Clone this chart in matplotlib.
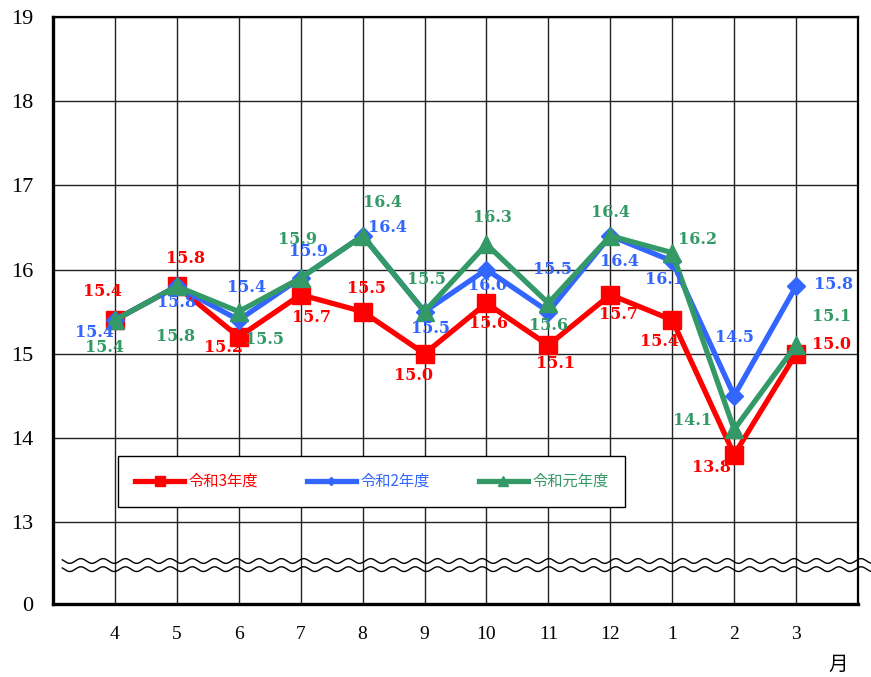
import numpy as np
import matplotlib
matplotlib.use("Agg")
import matplotlib.pyplot as plt

# ==============================================================================
# データ
# ==============================================================================
months = ["4", "5", "6", "7", "8", "9", "10", "11", "12", "1", "2", "3"]
r3_vals = [15.4, 15.8, 15.2, 15.7, 15.5, 15.0, 15.6, 15.1, 15.7, 15.4, 13.8, 15.0]
r2_vals = [15.4, 15.8, 15.4, 15.9, 16.4, 15.5, 16.0, 15.5, 16.4, 16.1, 14.5, 15.8]
r1_vals = [15.4, 15.8, 15.5, 15.9, 16.4, 15.5, 16.3, 15.6, 16.4, 16.2, 14.1, 15.1]
series_names = ["令和3年度", "令和2年度", "令和元年度"]
y_ticks = [13, 14, 15, 16, 17, 18, 19]

# ラベル位置 (pixel offset)
r3_off = [(-12, 29), (9, 28), (-15, -11), (11, -23), (4, 23), (-11, -22),
          (2, -20), (7, -18), (8, -20), (-13, -21), (-23, -13), (35, 9)]
r2_off = [(-20, -12), (0, -16), (8, 33), (8, 26), (25, 8), (6, -17),
          (1, -16), (4, 42), (9, -26), (-8, -18), (0, 58), (37, 2)]
r1_off = [(-10, -27), (-1, -50), (26, -28), (-3, 38), (20, 33), (2, 32),
          (6, 27), (0, -22), (0, 23), (25, 13), (-42, 9), (35, 29)]

colors = ["#FF0000", "#3366FF", "#339966"]
markers = ["s", "D", "^"]
msizes = [13, 9, 13]

Y_BOTTOM = 12.026  # 軸の省略部分 ("0")

fig = plt.figure(figsize=(8.71, 6.77), dpi=100)
ax = fig.add_axes([53 / 871, 73 / 677, 805 / 871, 587 / 677])

x = np.arange(1, len(months) + 1)
all_vals = [r3_vals, r2_vals, r1_vals]
all_off = [r3_off, r2_off, r1_off]

for vals, offs, name, c, m, ms in zip(all_vals, all_off, series_names, colors, markers, msizes):
    ax.plot(x, vals, color=c, lw=3.8, marker=m, markersize=ms, label=name, zorder=3)
    for xi, v, (dx, dy) in zip(x, vals, offs):
        ax.annotate(f"{v:.1f}", (xi, v), xytext=(dx, dy), textcoords="offset pixels",
                    ha="center", va="center", color=c, fontsize=11.5,
                    fontweight="bold", family="DejaVu Serif", zorder=4)

ax.set_xlim(0, 13)
ax.set_ylim(Y_BOTTOM, 19)
ax.set_xticks(x)
ax.set_xticklabels(months, family="Liberation Serif", fontsize=14)
ax.set_yticks([Y_BOTTOM] + y_ticks)
ax.set_yticklabels(["0"] + [str(t) for t in y_ticks], family="Liberation Serif", fontsize=16)
ax.tick_params(axis="both", length=0)
ax.tick_params(axis="y", pad=14)
ax.tick_params(axis="x", pad=16)
ax.grid(True, color="#222222", lw=1.0)
ax.set_axisbelow(True)
for side in ["top", "right"]:
    ax.spines[side].set_linewidth(1.6)
for side in ["left", "bottom"]:
    ax.spines[side].set_linewidth(2.4)

# 省略記号（波線）
wx = np.linspace(0.15, 13.25, 800)
for y0 in [12.537, 12.44]:
    ax.plot(wx, y0 + 0.028 * np.sin(2 * np.pi * wx / 0.36), color="black", lw=1.0,
            clip_on=False, zorder=2)

leg = ax.legend(loc="center", bbox_to_anchor=(0.396, 0.2085), ncol=3, frameon=True,
                fancybox=False, edgecolor="black", framealpha=1, markerscale=0.5,
                handlelength=3.2, handletextpad=0.3, columnspacing=3.2, borderpad=1.1,
                prop={"family": "Noto Sans CJK JP", "size": 11})
leg.get_frame().set_linewidth(1.0)
for txt, c in zip(leg.get_texts(), colors):
    txt.set_color(c)

fig.text(838 / 871, 1 - 664 / 677, "月", ha="center", va="center", fontsize=14,
         family="Noto Sans CJK JP")

fig.savefig("out.png", dpi=100)
plt.close(fig)
